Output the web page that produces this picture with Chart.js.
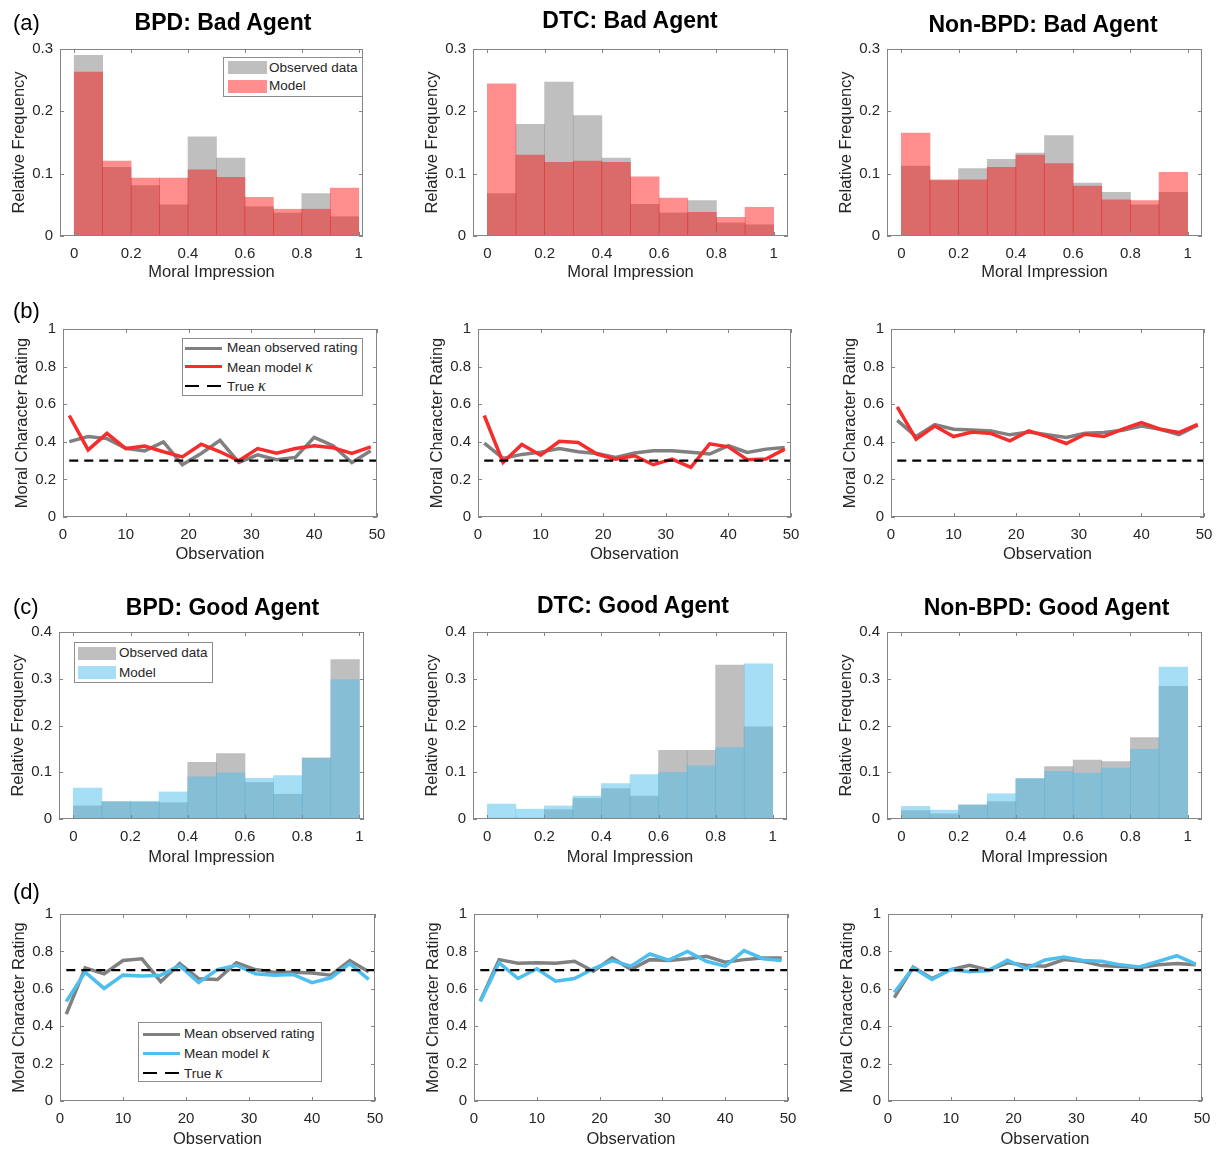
<!DOCTYPE html>
<html>
<head>
<meta charset="utf-8">
<script src="https://cdn.jsdelivr.net/npm/chart.js@4.4.0/dist/chart.umd.min.js"></script>
<style>
  body { margin: 0; background: #fff; overflow: hidden; }
  #fig { position: relative; width: 1220px; height: 1149px; font-family: "Liberation Sans", Arial, sans-serif; color: #262626; }
  #fig canvas { position: absolute; }
  .ttl { position: absolute; font-weight: bold; font-size: 23px; line-height: 23px; color: #000; transform: translate(-50%, -50%); white-space: nowrap; }
  .tag { position: absolute; font-size: 22px; line-height: 22px; color: #000; transform: translateY(-50%); }
  .leg { position: absolute; border: 1px solid #8c8c8c; background: #fff; box-sizing: border-box; font-size: 13.5px; }
  .leg .sw, .leg .tx, .leg .ln { position: absolute; }
  .leg .tx { line-height: 16px; transform: translateY(-50%); white-space: nowrap; color: #262626; }
  .leg i { font-family: "Liberation Serif", "DejaVu Serif", serif; font-size: 16px; }
</style>
</head>
<body>
<div id="fig"></div>
<script>
// bins of the moral impression histograms
const binCenters = [0.05, 0.15, 0.25, 0.35, 0.45, 0.55, 0.65, 0.75, 0.85, 0.95];
const histTicksX = [0, 0.2, 0.4, 0.6, 0.8, 1];
const badTicksY = [0, 0.1, 0.2, 0.3];
const goodTicksY = [0, 0.1, 0.2, 0.3, 0.4];

// observation index of the rating curves
const trials = [1, 4, 7, 10, 13, 16, 19, 22, 25, 28, 31, 34, 37, 40, 43, 46, 49];
const trialTicksX = [0, 10, 20, 30, 40, 50];
const ratingTicksY = [0, 0.2, 0.4, 0.6, 0.8, 1];
const kappaSpan = [1, 50];
const trueKappaBad = [0.3, 0.3];
const trueKappaGood = [0.7, 0.7];

// (a) bad agent: relative frequency
const bpdBadObserved = [0.290, 0.110, 0.081, 0.050, 0.159, 0.125, 0.047, 0.037, 0.068, 0.031];
const bpdBadModel    = [0.263, 0.120, 0.093, 0.093, 0.106, 0.094, 0.062, 0.043, 0.043, 0.077];
const dtcBadObserved = [0.068, 0.179, 0.247, 0.193, 0.125, 0.051, 0.037, 0.057, 0.021, 0.018];
const dtcBadModel    = [0.244, 0.130, 0.118, 0.120, 0.118, 0.095, 0.061, 0.038, 0.030, 0.046];
const nonBadObserved = [0.112, 0.089, 0.108, 0.123, 0.133, 0.161, 0.085, 0.070, 0.050, 0.070];
const nonBadModel    = [0.165, 0.090, 0.090, 0.110, 0.130, 0.116, 0.080, 0.058, 0.057, 0.102];

// (b) bad agent: mean ratings over observations
const bpdBadRating = [0.401, 0.428, 0.417, 0.366, 0.352, 0.400, 0.278, 0.338, 0.408, 0.290, 0.331, 0.305, 0.317, 0.424, 0.379, 0.290, 0.352];
const bpdBadKappa  = [0.540, 0.357, 0.445, 0.364, 0.377, 0.347, 0.320, 0.387, 0.347, 0.299, 0.364, 0.340, 0.364, 0.379, 0.368, 0.338, 0.373];
const dtcBadRating = [0.393, 0.312, 0.333, 0.345, 0.364, 0.347, 0.338, 0.317, 0.340, 0.352, 0.352, 0.345, 0.335, 0.379, 0.343, 0.361, 0.370];
const dtcBadKappa  = [0.540, 0.290, 0.386, 0.329, 0.403, 0.396, 0.335, 0.308, 0.326, 0.278, 0.308, 0.264, 0.389, 0.373, 0.305, 0.308, 0.361];
const nonBadRating = [0.514, 0.428, 0.491, 0.467, 0.463, 0.458, 0.437, 0.452, 0.438, 0.423, 0.445, 0.449, 0.461, 0.484, 0.467, 0.438, 0.488];
const nonBadKappa  = [0.586, 0.414, 0.484, 0.428, 0.452, 0.444, 0.405, 0.458, 0.428, 0.391, 0.440, 0.428, 0.467, 0.502, 0.467, 0.449, 0.493];

// (c) good agent: relative frequency
const bpdGoodObserved = [0.028, 0.037, 0.036, 0.035, 0.121, 0.140, 0.078, 0.053, 0.131, 0.341];
const bpdGoodModel    = [0.066, 0.037, 0.038, 0.058, 0.090, 0.099, 0.087, 0.093, 0.130, 0.298];
const dtcGoodObserved = [0.002, 0.002, 0.020, 0.044, 0.065, 0.049, 0.147, 0.147, 0.329, 0.197];
const dtcGoodModel    = [0.032, 0.021, 0.028, 0.049, 0.076, 0.095, 0.100, 0.114, 0.153, 0.332];
const nonGoodObserved = [0.018, 0.011, 0.030, 0.037, 0.086, 0.112, 0.126, 0.123, 0.174, 0.284];
const nonGoodModel    = [0.027, 0.019, 0.030, 0.054, 0.087, 0.102, 0.098, 0.109, 0.149, 0.325];

// (d) good agent: mean ratings over observations
const bpdGoodRating = [0.465, 0.712, 0.680, 0.751, 0.760, 0.638, 0.735, 0.654, 0.650, 0.739, 0.703, 0.689, 0.689, 0.684, 0.673, 0.751, 0.691];
const bpdGoodKappa  = [0.532, 0.689, 0.602, 0.673, 0.668, 0.673, 0.724, 0.633, 0.703, 0.726, 0.680, 0.673, 0.677, 0.633, 0.659, 0.735, 0.650];
const dtcGoodRating = [0.535, 0.756, 0.737, 0.739, 0.737, 0.747, 0.694, 0.765, 0.703, 0.756, 0.751, 0.761, 0.774, 0.742, 0.756, 0.765, 0.765];
const dtcGoodKappa  = [0.532, 0.739, 0.655, 0.707, 0.641, 0.655, 0.707, 0.751, 0.721, 0.786, 0.753, 0.800, 0.747, 0.721, 0.804, 0.761, 0.751];
const nonGoodRating = [0.553, 0.716, 0.655, 0.703, 0.726, 0.700, 0.739, 0.726, 0.721, 0.756, 0.747, 0.724, 0.719, 0.712, 0.728, 0.735, 0.728];
const nonGoodKappa  = [0.580, 0.712, 0.650, 0.703, 0.691, 0.698, 0.753, 0.708, 0.754, 0.770, 0.751, 0.747, 0.728, 0.717, 0.747, 0.777, 0.732];

const GRAY_FILL = 'rgba(128,128,128,0.5)';
const RED_FILL = 'rgba(255,0,0,0.44)';
const BLUE_FILL = 'rgba(77,190,238,0.5)';
const GRAY_LINE = '#808080';
const RED_LINE = '#f52d2d';
const BLUE_LINE = '#4dbeee';

Chart.defaults.font.family = '"Liberation Sans", Arial, sans-serif';
Chart.defaults.color = '#262626';
Chart.defaults.animation = false;

const fig = document.getElementById('fig');
const M = { l: 58, t: 14, r: 20, b: 52 };

function fmt(v) { return String(Math.round(v * 100) / 100); }
function pts(xs, ys) { return xs.map((x, i) => ({ x: x, y: ys[i] })); }

// matlab style box with inward ticks on all four sides
const axesBox = {
  id: 'axesBox',
  afterDatasetsDraw(chart) {
    const { ctx, chartArea: a, scales: { x, y } } = chart;
    ctx.save();
    ctx.strokeStyle = '#858585';
    ctx.lineWidth = 1;
    ctx.strokeRect(Math.round(a.left) + 0.5, Math.round(a.top) + 0.5, Math.round(a.width) - 1, Math.round(a.height) - 1);
    ctx.beginPath();
    x.ticks.forEach(t => {
      const p = Math.round(x.getPixelForValue(t.value)) + 0.5;
      ctx.moveTo(p, a.bottom); ctx.lineTo(p, a.bottom - 4);
      ctx.moveTo(p, a.top); ctx.lineTo(p, a.top + 4);
    });
    y.ticks.forEach(t => {
      const p = Math.round(y.getPixelForValue(t.value)) + 0.5;
      ctx.moveTo(a.left, p); ctx.lineTo(a.left + 4, p);
      ctx.moveTo(a.right, p); ctx.lineTo(a.right - 4, p);
    });
    ctx.stroke();
    ctx.restore();
  }
};

function scaleOpts(min, max, tickVals, title, isX, labelGap) {
  return {
    type: 'linear', min: min, max: max, offset: false,
    grid: { display: false, drawTicks: false },
    border: { display: false },
    afterBuildTicks: s => { s.ticks = tickVals.map(v => ({ value: v })); },
    afterFit: s => { if (isX) s.height = M.b; else s.width = M.l; },
    ticks: { font: { size: 15 }, padding: isX ? 9 : 7, autoSkip: false, maxRotation: 0, callback: v => fmt(v) },
    title: {
      display: true, text: title, font: { size: 16.5 },
      padding: isX ? { top: 0, bottom: M.b - labelGap - 9.9 } : { top: M.l - 41 - 9.9, bottom: 0 }
    }
  };
}

function makeChart(box, type, datasets, xScale, yScale) {
  const cv = document.createElement('canvas');
  const w = box[2] - box[0] + M.l + M.r;
  const h = box[3] - box[1] + M.t + M.b;
  cv.width = w; cv.height = h;
  cv.style.left = (box[0] - M.l) + 'px';
  cv.style.top = (box[1] - M.t) + 'px';
  cv.style.width = w + 'px';
  cv.style.height = h + 'px';
  fig.appendChild(cv);
  new Chart(cv, {
    type: type,
    data: { datasets: datasets },
    options: {
      responsive: false,
      layout: { padding: { left: 0, top: M.t, right: M.r, bottom: 0 } },
      plugins: { legend: { display: false }, tooltip: { enabled: false } },
      scales: { x: xScale, y: yScale }
    },
    plugins: [axesBox]
  });
}

function histPanel(box, xMax, yTicks, observed, model, modelFill, labelGap) {
  const bar = { grouped: false, barPercentage: 1, categoryPercentage: 1, borderWidth: 0 };
  makeChart(box, 'bar', [
    Object.assign({ data: pts(binCenters, model), backgroundColor: modelFill }, bar),
    Object.assign({ data: pts(binCenters, observed), backgroundColor: GRAY_FILL }, bar)
  ],
    scaleOpts(-0.05, xMax, histTicksX, 'Moral Impression', true, labelGap),
    scaleOpts(0, yTicks[yTicks.length - 1], yTicks, 'Relative Frequency', false));
}

function ratingPanel(box, observed, model, modelLine, trueKappa, labelGap) {
  const line = { pointRadius: 0, tension: 0, fill: false };
  makeChart(box, 'line', [
    Object.assign({ data: pts(kappaSpan, trueKappa), borderColor: '#000', borderWidth: 2.2, borderDash: [9, 6] }, line),
    Object.assign({ data: pts(trials, model), borderColor: modelLine, borderWidth: 3.5 }, line),
    Object.assign({ data: pts(trials, observed), borderColor: GRAY_LINE, borderWidth: 3.5 }, line)
  ],
    scaleOpts(0, 50, trialTicksX, 'Observation', true, labelGap),
    scaleOpts(0, 1, ratingTicksY, 'Moral Character Rating', false));
}

// plot boxes: left, top, right, bottom
histPanel([60, 47, 363, 236], 1.015, badTicksY, bpdBadObserved, bpdBadModel, RED_FILL, 36.4);
histPanel([473, 47, 788, 236], 1.05, badTicksY, dtcBadObserved, dtcBadModel, RED_FILL, 36.4);
histPanel([887, 47, 1202, 236], 1.05, badTicksY, nonBadObserved, nonBadModel, RED_FILL, 36.4);

ratingPanel([63, 327, 377, 517], bpdBadRating, bpdBadKappa, RED_LINE, trueKappaBad, 37.3);
ratingPanel([478, 327, 791, 517], dtcBadRating, dtcBadKappa, RED_LINE, trueKappaBad, 37.3);
ratingPanel([891, 327, 1204, 517], nonBadRating, nonBadKappa, RED_LINE, trueKappaBad, 37.3);

histPanel([59, 630, 364, 819], 1.016, goodTicksY, bpdGoodObserved, bpdGoodModel, BLUE_FILL, 38.4);
histPanel([473, 630, 787, 819], 1.05, goodTicksY, dtcGoodObserved, dtcGoodModel, BLUE_FILL, 38.4);
histPanel([887, 630, 1202, 819], 1.05, goodTicksY, nonGoodObserved, nonGoodModel, BLUE_FILL, 38.4);

ratingPanel([60, 912, 375, 1101], bpdGoodRating, bpdGoodKappa, BLUE_LINE, trueKappaGood, 38);
ratingPanel([474, 912, 788, 1101], dtcGoodRating, dtcGoodKappa, BLUE_LINE, trueKappaGood, 38);
ratingPanel([888, 912, 1202, 1101], nonGoodRating, nonGoodKappa, BLUE_LINE, trueKappaGood, 38);

// titles and panel tags
function text(cls, html, x, y) {
  const d = document.createElement('div');
  d.className = cls;
  d.innerHTML = html;
  d.style.left = x + 'px';
  d.style.top = y + 'px';
  fig.appendChild(d);
}
text('ttl', 'BPD: Bad Agent', 223, 22);
text('ttl', 'DTC: Bad Agent', 630, 20);
text('ttl', 'Non-BPD: Bad Agent', 1043, 23.5);
text('ttl', 'BPD: Good Agent', 222.5, 606.5);
text('ttl', 'DTC: Good Agent', 633, 605);
text('ttl', 'Non-BPD: Good Agent', 1046.5, 607);
text('tag', '(a)', 13, 23);
text('tag', '(b)', 13, 311);
text('tag', '(c)', 13, 607);
text('tag', '(d)', 13, 892);

// legends: box in page px, swatch span, text x, rows
function legend(box, swX, txX, rows) {
  const el = document.createElement('div');
  el.className = 'leg';
  el.style.left = box[0] + 'px';
  el.style.top = box[1] + 'px';
  el.style.width = (box[2] - box[0]) + 'px';
  el.style.height = (box[3] - box[1]) + 'px';
  rows.forEach(r => {
    const s = document.createElement('div');
    s.className = 'sw';
    s.style.left = (swX[0] - box[0] - 1) + 'px';
    s.style.width = (swX[1] - swX[0]) + 'px';
    if (r.kind === 'rect') {
      s.style.top = (r.y - 6.5 - box[1] - 1) + 'px';
      s.style.height = '13px';
      s.style.background = r.color;
    } else {
      const lw = r.kind === 'dash' ? 2.2 : 3.5;
      s.style.top = (r.y - lw / 2 - box[1] - 1) + 'px';
      s.style.height = lw + 'px';
      s.style.background = r.kind === 'dash'
        ? 'repeating-linear-gradient(90deg, #000 0 14px, transparent 14px 22px)'
        : r.color;
    }
    el.appendChild(s);
    const t = document.createElement('div');
    t.className = 'tx';
    t.style.left = (txX - box[0] - 1) + 'px';
    t.style.top = (r.y - box[1] - 1) + 'px';
    t.innerHTML = r.label;
    el.appendChild(t);
  });
  fig.appendChild(el);
}

legend([223, 57, 363, 97], [228, 267], 269, [
  { kind: 'rect', color: GRAY_FILL, y: 67.5, label: 'Observed data' },
  { kind: 'rect', color: RED_FILL, y: 86, label: 'Model' }
]);
legend([182, 338, 363, 396], [185, 222], 227, [
  { kind: 'line', color: GRAY_LINE, y: 348.3, label: 'Mean observed rating' },
  { kind: 'line', color: RED_LINE, y: 366.7, label: 'Mean model <i>κ</i>' },
  { kind: 'dash', y: 385.7, label: 'True <i>κ</i>' }
]);
legend([74, 642, 213, 683], [78, 116], 119, [
  { kind: 'rect', color: GRAY_FILL, y: 653.4, label: 'Observed data' },
  { kind: 'rect', color: BLUE_FILL, y: 672.7, label: 'Model' }
]);
legend([138, 1022, 322, 1082], [143, 180], 184, [
  { kind: 'line', color: GRAY_LINE, y: 1034.3, label: 'Mean observed rating' },
  { kind: 'line', color: BLUE_LINE, y: 1053.3, label: 'Mean model <i>κ</i>' },
  { kind: 'dash', y: 1072.7, label: 'True <i>κ</i>' }
]);
</script>
</body>
</html>
